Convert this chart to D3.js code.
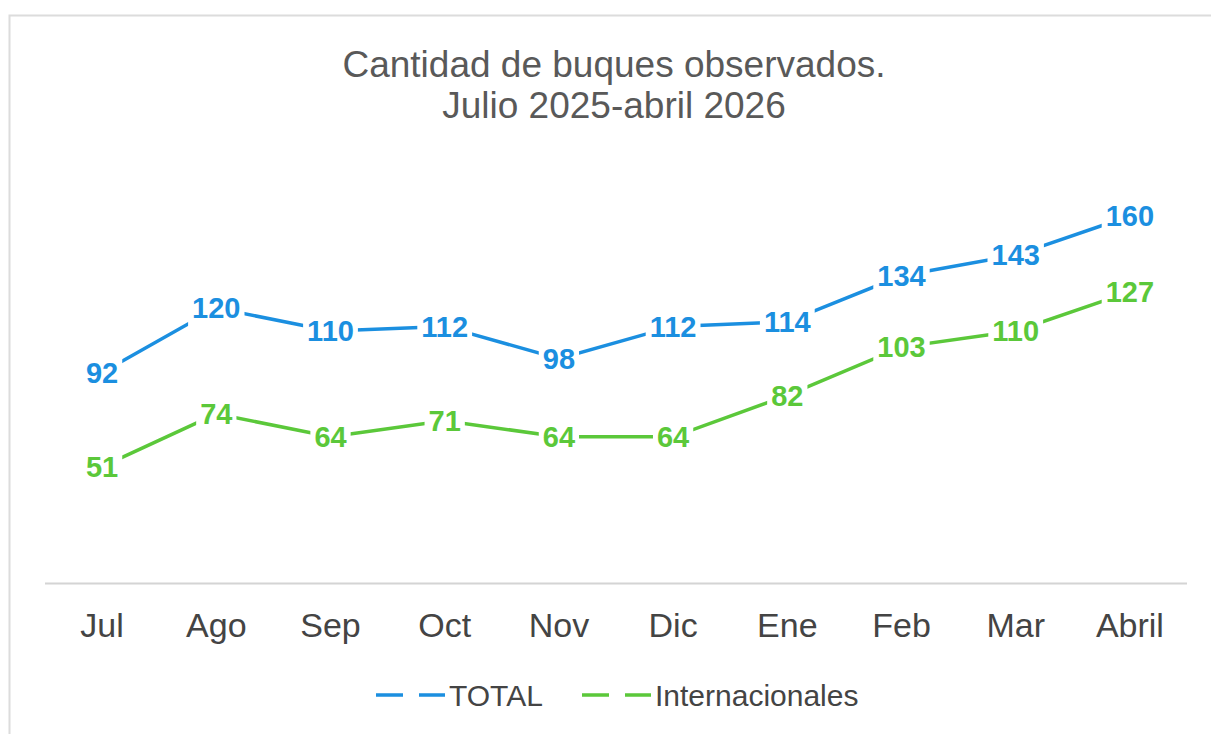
<!DOCTYPE html>
<html>
<head>
<meta charset="utf-8">
<script src="https://cdn.jsdelivr.net/npm/d3@7"></script>
<style>
  body { margin: 0; background: #fff; }
  svg { display: block; font-family: 'Liberation Sans', Arial, sans-serif; }
</style>
</head>
<body>
<div id="chart-area"></div>
<script>
// data
const months = ['Jul', 'Ago', 'Sep', 'Oct', 'Nov', 'Dic', 'Ene', 'Feb', 'Mar', 'Abril'];
const total = [92, 120, 110, 112, 98, 112, 114, 134, 143, 160];
const internacionales = [51, 74, 64, 71, 64, 64, 82, 103, 110, 127];
const seriesNames = ['TOTAL', 'Internacionales'];
const titleLines = ['Cantidad de buques observados.', 'Julio 2025-abril 2026'];

const W = 1211;
const H = 734;
const colors = ['#1b8fe0', '#5bc83a'];

const svg = d3
  .select('#chart-area')
  .append('svg')
  .attr('width', W)
  .attr('height', H);

// frame (top + left only, like the screenshot)
svg.append('path')
  .attr('d', `M9.5,${H} V15.5 H${W}`)
  .attr('fill', 'none')
  .attr('stroke', '#dcdcdc')
  .attr('stroke-width', 2);

// title
svg.selectAll('.title')
  .data(titleLines)
  .enter()
  .append('text')
  .attr('class', 'title')
  .attr('x', 614)
  .attr('y', (d, i) => 77 + i * 41)
  .attr('text-anchor', 'middle')
  .attr('fill', '#595959')
  .style('font-size', '37px')
  .text((d) => d);

// scales
const x = d3.scaleBand().domain(months).range([45, 1187]);
const y = d3.scaleLinear().domain([0, 180]).range([584, 170]);
const cx = (m) => x(m) + x.bandwidth() / 2;

// x axis baseline
svg.append('line')
  .attr('x1', 45)
  .attr('x2', 1187)
  .attr('y1', 583.5)
  .attr('y2', 583.5)
  .attr('stroke', '#d4d4d4')
  .attr('stroke-width', 2);

const xAxis = svg.append('g')
  .attr('transform', 'translate(0, 583)')
  .call(d3.axisBottom(x).tickSize(0).tickPadding(30));
xAxis.select('.domain').remove();
xAxis.selectAll('text')
  .attr('fill', '#444')
  .style('font-size', '34px')
  .style('font-family', "'Liberation Sans', Arial, sans-serif");

const series = [total, internacionales].map((vals, i) => ({
  name: seriesNames[i],
  color: colors[i],
  points: vals.map((v, j) => ({ m: months[j], v: v })),
}));

const line = d3
  .line()
  .x((d) => cx(d.m))
  .y((d) => y(d.v));

svg.selectAll('.series-line')
  .data(series)
  .enter()
  .append('path')
  .attr('class', 'series-line')
  .attr('fill', 'none')
  .attr('stroke', (d) => d.color)
  .attr('stroke-width', 3.5)
  .attr('d', (d) => line(d.points));

// labels sit on the points, with a white box knocking out the line
series.forEach((s) => {
  const lab = svg.selectAll(null)
    .data(s.points)
    .enter()
    .append('g')
    .attr('transform', (d) => `translate(${cx(d.m)}, ${y(d.v)})`);
  const t = lab.append('text')
    .attr('text-anchor', 'middle')
    .attr('dy', '0.35em')
    .attr('fill', s.color)
    .style('font-size', '29px')
    .style('font-weight', 'bold')
    .text((d) => d.v);
  t.each(function () {
    const b = this.getBBox();
    d3.select(this.parentNode)
      .insert('rect', 'text')
      .attr('x', b.x - 4)
      .attr('y', b.y - 2)
      .attr('width', b.width + 8)
      .attr('height', b.height + 4)
      .attr('fill', '#fff');
  });
});

// legend
const legend = svg.append('g').attr('transform', 'translate(376, 695)');
const legendX = [0, 206];
series.forEach((s, i) => {
  const g = legend.append('g').attr('transform', `translate(${legendX[i]}, 0)`);
  g.append('line')
    .attr('x1', 0)
    .attr('x2', 69)
    .attr('stroke', s.color)
    .attr('stroke-width', 3.5)
    .attr('stroke-dasharray', '27,16');
  g.append('text')
    .attr('x', 73)
    .attr('dy', '0.35em')
    .attr('fill', '#444')
    .style('font-size', '30px')
    .text(s.name);
});
</script>
</body>
</html>
